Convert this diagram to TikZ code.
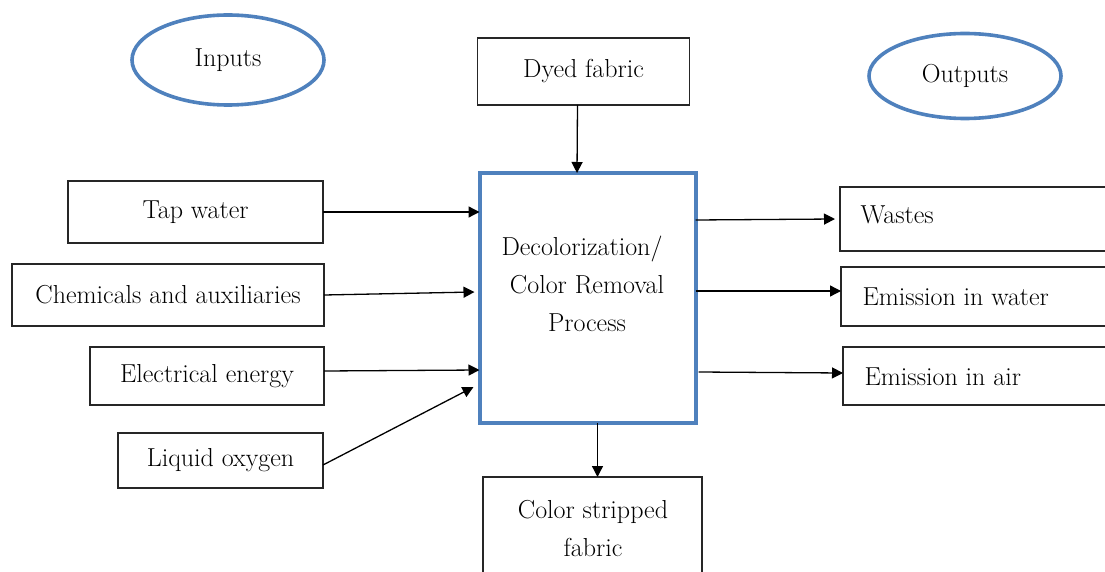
\documentclass[tikz,border=0pt]{standalone}
\usetikzlibrary{arrows.meta,shapes.geometric}
\definecolor{bl}{RGB}{79,129,189}
\begin{document}
\begin{tikzpicture}[x=1pt,y=-1pt,
  lbl/.style={font=\fontsize{26}{38}\selectfont},
  bx/.style={draw=black!85,line width=1.2pt,inner sep=0pt,outer sep=0pt,rectangle,lbl},
  ell/.style={draw=bl,line width=3.6pt,ellipse,inner sep=0pt,outer sep=0pt,lbl},
  arr/.style={line width=1.3pt,-{Triangle[length=11pt,width=11pt]}}]
\useasboundingbox (0,0) rectangle (1105,572);
\clip (0,0) rectangle (1105,572);
% ellipses
\node[ell,minimum width=192pt,minimum height=90pt] (inp) at (228,60) {Inputs};
\node[ell,minimum width=192pt,minimum height=85pt] (outp) at (965,76) {Outputs};
% top / center / bottom
\node[bx,minimum width=212pt,minimum height=67pt] (dyed) at (583.5,71.5) {Dyed fabric};
\node[draw=bl,line width=4pt,rectangle,inner sep=0pt,outer sep=0pt,minimum width=216pt,minimum height=250pt] (proc) at (587.5,298) {};
\node[lbl,align=center] (proct) at (587,284) {\hspace*{-10pt}Decolorization/\\Color Removal\\Process};
\node[bx,minimum width=219pt,minimum height=120pt] (strip) at (592.5,537) {};
\node[lbl,align=center] (stript) at (593,529) {Color stripped\\fabric};
% inputs
\node[bx,minimum width=255pt,minimum height=62pt] (tap) at (195.5,212) {Tap water};
\node[bx,minimum width=312pt,minimum height=62pt] (chem) at (168,295) {Chemicals and auxiliaries};
\node[bx,minimum width=234pt,minimum height=58pt] (elec) at (207,376) {Electrical energy};
\node[bx,minimum width=205pt,minimum height=55pt] (lox) at (220.5,460.5) {Liquid oxygen};
% outputs
\node[bx,minimum width=275pt,minimum height=64pt] (wst) at (977.5,219) {};
\node[lbl,anchor=west] (wstt) at (857,215) {Wastes};
\node[bx,minimum width=275pt,minimum height=59pt] (ewat) at (978.5,296.5) {};
\node[lbl,anchor=west] (ewatt) at (859,297) {Emission in water};
\node[bx,minimum width=275pt,minimum height=58pt] (eair) at (980.5,376) {};
\node[lbl,anchor=west] (eairt) at (861,377) {Emission in air};
% connectors
\draw[arr] ([xshift=-6pt]dyed.south) -- ([xshift=-10.5pt]proc.north);
\draw[arr] (tap.east) -- (proc.west |- tap.east);
\draw[arr] (chem.east) -- ([xshift=-5pt]proc.west |- 0,292);
\draw[arr] (elec.east |- 0,371) -- (proc.west |- 0,370);
\draw[arr] (lox.east |- 0,465) -- ([xshift=-6pt]proc.west |- 0,387);
\draw[arr] (proc.east |- 0,220) -- ([xshift=-5pt]wst.west);
\draw[arr] (proc.east |- 0,291) -- (ewat.west |- 0,291);
\draw[arr] ([xshift=3pt]proc.east |- 0,372) -- (eair.west |- 0,373);
\draw[arr] ([xshift=10pt]proc.south) -- ([xshift=5pt]strip.north);
\end{tikzpicture}
\end{document}
